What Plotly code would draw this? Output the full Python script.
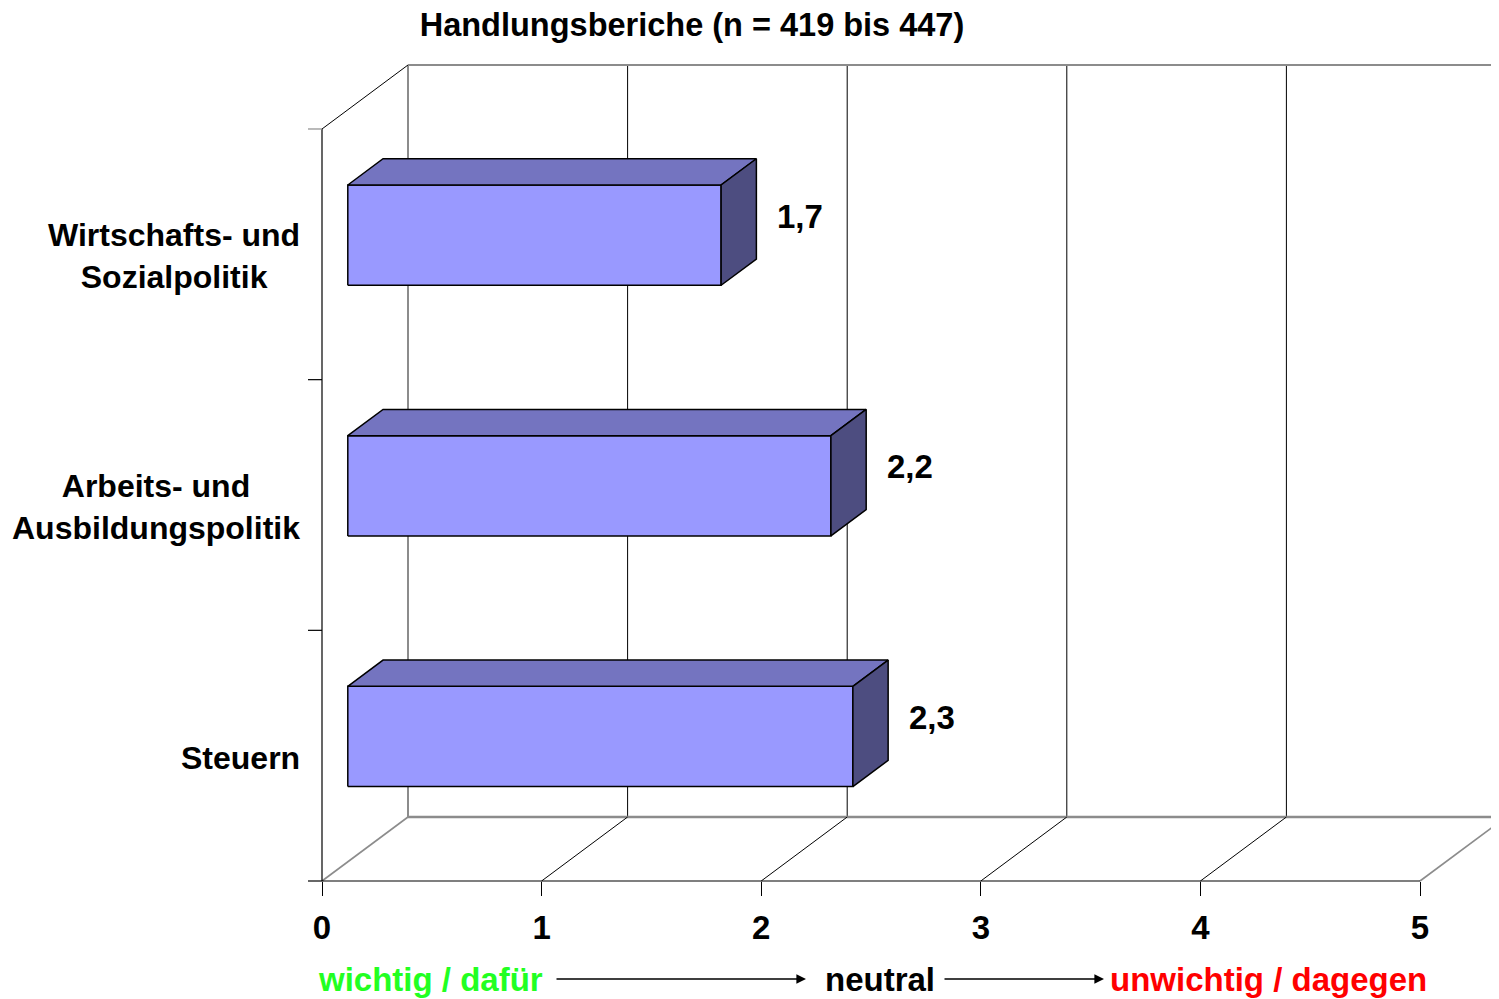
import plotly.graph_objects as go

# ---------------- data ----------------
categories = ["Steuern", "Arbeits- und<br>Ausbildungspolitik", "Wirtschafts- und<br>Sozialpolitik"]
values = [2.3, 2.2, 1.7]
value_labels = ["2,3", "2,2", "1,7"]
x_ticks = [0, 1, 2, 3, 4, 5]
x_tick_labels = ["0", "1", "2", "3", "4", "5"]
title_text = "Handlungsberiche (n = 419 bis 447)"
scale_texts = ["wichtig / dafür", "neutral", "unwichtig / dagegen"]

# ---------------- styling / 3D projection ----------------
OFF = 8              # page body margin of the html page
PXX = 219.6          # px per x unit
PXY = 250.67         # px per category
DX = 86 / PXX        # depth offset in x units
DY = 64 / PXY        # depth offset in y units
D_FRONT, D_BACK = 0.30, 0.71
HALF_H = 0.20
XMAX = 5
NCAT = len(categories)

FONT = "Liberation Sans, Arial, sans-serif"
FS = 33
FS_CAT = 32
FS_TITLE = 32.5
GRAY = "#8c8c8c"

C_FRONT = "#9999FF"
C_TOP = "#7474C0"
C_SIDE = "#4D4D80"

def P(x, y, d):
    return x + d * DX, y + d * DY

fig = go.Figure()

# bars (3D boxes)
for i, v in enumerate(values):
    c = i + 0.5
    y0, y1 = c - HALF_H, c + HALF_H
    faces = [
        ([P(0, y0, D_FRONT), P(v, y0, D_FRONT), P(v, y1, D_FRONT), P(0, y1, D_FRONT)], C_FRONT),
        ([P(0, y1, D_FRONT), P(v, y1, D_FRONT), P(v, y1, D_BACK), P(0, y1, D_BACK)], C_TOP),
        ([P(v, y0, D_FRONT), P(v, y1, D_FRONT), P(v, y1, D_BACK), P(v, y0, D_BACK)], C_SIDE),
    ]
    for pts, col in faces:
        xs = [p[0] for p in pts] + [pts[0][0]]
        ys = [p[1] for p in pts] + [pts[0][1]]
        fig.add_trace(go.Scatter(x=xs, y=ys, mode="lines", fill="toself",
                                 fillcolor=col, line=dict(color="black", width=1.5),
                                 hoverinfo="skip", showlegend=False))

shapes = []
def line(x0, y0, x1, y1, color="black", width=1):
    shapes.append(dict(type="line", xref="x", yref="y", x0=x0, y0=y0, x1=x1, y1=y1,
                       line=dict(color=color, width=width), layer="below"))

XR = 5.6  # far right extent (clipped)
# back wall gridlines
for k in x_ticks:
    if k == 0:
        line(k + DX, DY, k + DX, NCAT + DY, GRAY, 2)
    else:
        line(k + DX, DY, k + DX, NCAT + DY, "black", 1)
# back wall top & floor back edge
line(DX, NCAT + DY, XR, NCAT + DY, GRAY, 2)
line(DX, DY, XR, DY, GRAY, 2.5)
# floor diagonals
for k in x_ticks:
    col = GRAY if k in (0, XMAX) else "black"
    w = 1.6 if k in (0, XMAX) else 1
    line(k, 0, k + DX, DY, col, w)
# left wall top diagonal
line(0, NCAT, DX, NCAT + DY, "black", 1)
# front axes
line(0, 0, 0, NCAT, "black", 1.2)
line(0, 0, XMAX, 0, "black", 1.2)
# y ticks (left)
for j in range(NCAT + 1):
    line(-14 / PXX, j, 0, j, GRAY if j == NCAT else "black", 1.2)

annotations = []
# category labels
for i, cat in enumerate(categories):
    annotations.append(dict(x=0, y=i + 0.5, xref="x", yref="y", text=cat, showarrow=False,
                            xanchor="right", yanchor="middle", align="center", xshift=-20,
                            yshift=-2,
                            font=dict(family=FONT, size=FS_CAT, color="black", weight="bold")))
# value labels
for i, (v, lab) in enumerate(zip(values, value_labels)):
    annotations.append(dict(x=v + D_BACK * DX, y=i + 0.5 + D_FRONT * DY, xref="x", yref="y",
                            text=lab, showarrow=False, xanchor="left", yanchor="middle",
                            xshift=19, yshift=19,
                            font=dict(family=FONT, size=FS, color="black", weight="bold")))

# plot area geometry (page pixels minus body offset)
L, R, T, B = 290 - OFF, 1499 - OFF, 50 - OFF, 900 - OFF
x_range = [(L + OFF - 322) / PXX, (R + OFF - 322) / PXX]
y_range = [(881 - B - OFF) / PXY, (881 - T - OFF) / PXY]
axis_pos = (B + OFF - 881) / (B - T)

# bottom scale description
YB = -((979 - OFF) - B) / (B - T)
for txt, xc, col in zip(scale_texts,
                        [(430 - 322) / PXX, (880 - 322) / PXX, (1268 - 322) / PXX],
                        ["#22FF22", "black", "#FF0000"]):
    annotations.append(dict(x=xc, y=YB, xref="x", yref="paper", text=txt, showarrow=False,
                            xanchor="center", yanchor="middle",
                            font=dict(family=FONT, size=FS, color=col, weight="bold")))
for x_tail, x_head in [(555, 806), (943, 1104)]:
    annotations.append(dict(x=(x_head - 322) / PXX, y=YB, ax=-(x_head - x_tail), ay=0,
                            xref="x", yref="paper", axref="pixel", ayref="pixel",
                            text="", showarrow=True,
                            arrowhead=2, arrowsize=1.2, arrowwidth=1.6, arrowcolor="black"))

fig.update_layout(
    width=1499, height=999,
    margin=dict(l=L, r=1499 - R, t=T, b=999 - B, pad=0, autoexpand=False),
    paper_bgcolor="white", plot_bgcolor="white",
    showlegend=False,
    title=dict(text=title_text, x=(692 - OFF) / 1499, xref="container", xanchor="center",
               y=1 - (25 - OFF) / 999, yref="container", yanchor="middle",
               font=dict(family=FONT, size=FS_TITLE, color="black", weight="bold")),
    xaxis=dict(range=x_range, tickvals=x_ticks, ticktext=x_tick_labels,
               ticks="outside", ticklen=14, tickcolor="black", tickwidth=1.2,
               showgrid=False, zeroline=False, showline=False,
               anchor="free", position=axis_pos, ticklabelstandoff=3,
               tickfont=dict(family=FONT, size=FS, color="black", weight="bold"),
               fixedrange=True),
    yaxis=dict(range=y_range, visible=False, fixedrange=True),
    shapes=shapes,
    annotations=annotations,
)

fig.write_html("out.html")
